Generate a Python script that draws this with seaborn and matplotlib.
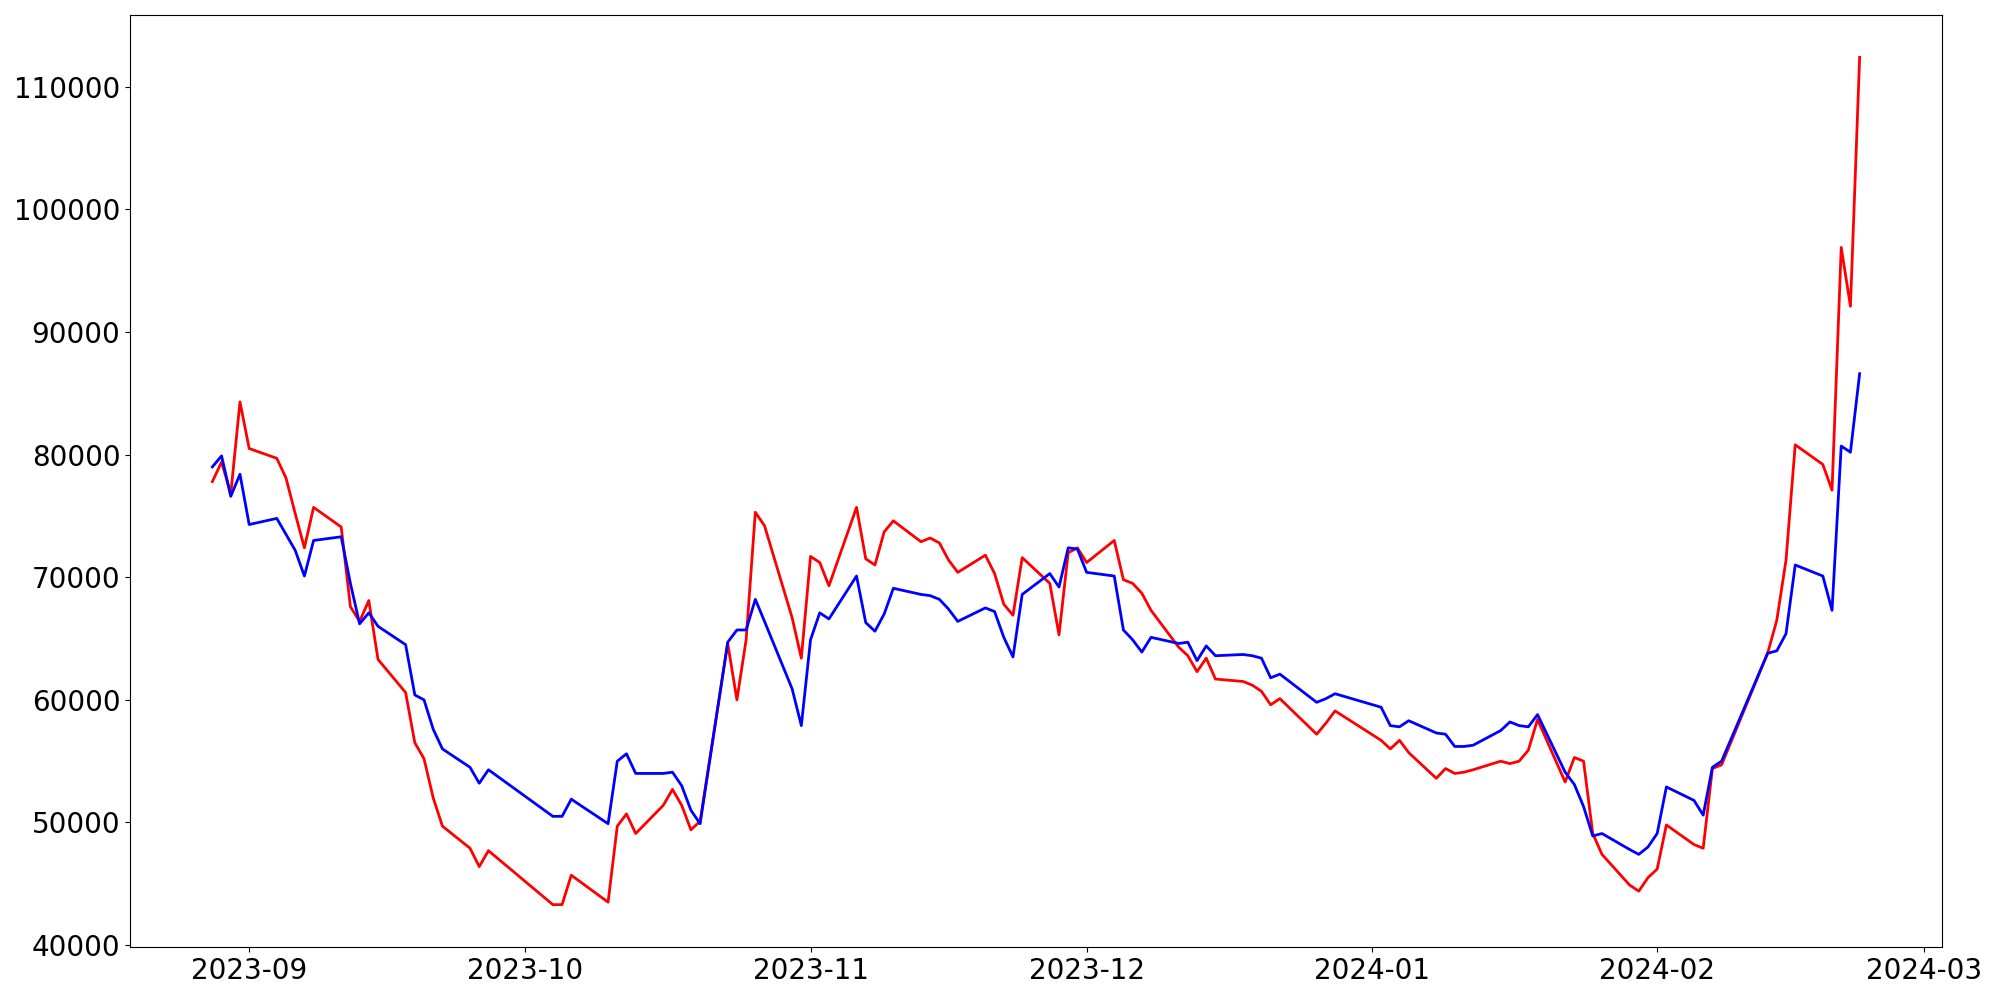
import matplotlib
matplotlib.use("Agg")
import matplotlib.pyplot as plt
import seaborn as sns
import pandas as pd

dates = [
    "2023-08-28", "2023-08-29", "2023-08-30", "2023-08-31",
    "2023-09-01", "2023-09-04", "2023-09-05", "2023-09-06", "2023-09-07", "2023-09-08",
    "2023-09-11", "2023-09-12", "2023-09-13", "2023-09-14", "2023-09-15",
    "2023-09-18", "2023-09-19", "2023-09-20", "2023-09-21", "2023-09-22",
    "2023-09-25", "2023-09-26", "2023-09-27",
    "2023-10-04", "2023-10-05", "2023-10-06",
    "2023-10-10", "2023-10-11", "2023-10-12", "2023-10-13",
    "2023-10-16", "2023-10-17", "2023-10-18", "2023-10-19", "2023-10-20",
    "2023-10-23", "2023-10-24", "2023-10-25", "2023-10-26", "2023-10-27",
    "2023-10-30", "2023-10-31", "2023-11-01", "2023-11-02", "2023-11-03",
    "2023-11-06", "2023-11-07", "2023-11-08", "2023-11-09", "2023-11-10",
    "2023-11-13", "2023-11-14", "2023-11-15", "2023-11-16", "2023-11-17",
    "2023-11-20", "2023-11-21", "2023-11-22", "2023-11-23", "2023-11-24",
    "2023-11-27", "2023-11-28", "2023-11-29", "2023-11-30", "2023-12-01",
    "2023-12-04", "2023-12-05", "2023-12-06", "2023-12-07", "2023-12-08",
    "2023-12-11", "2023-12-12", "2023-12-13", "2023-12-14", "2023-12-15",
    "2023-12-18", "2023-12-19", "2023-12-20", "2023-12-21", "2023-12-22",
    "2023-12-26", "2023-12-27", "2023-12-28",
    "2024-01-02", "2024-01-03", "2024-01-04", "2024-01-05",
    "2024-01-08", "2024-01-09", "2024-01-10", "2024-01-11", "2024-01-12",
    "2024-01-15", "2024-01-16", "2024-01-17", "2024-01-18", "2024-01-19",
    "2024-01-22", "2024-01-23", "2024-01-24", "2024-01-25", "2024-01-26",
    "2024-01-29", "2024-01-30", "2024-01-31", "2024-02-01", "2024-02-02",
    "2024-02-05", "2024-02-06", "2024-02-07", "2024-02-08",
    "2024-02-13", "2024-02-14", "2024-02-15", "2024-02-16",
    "2024-02-19", "2024-02-20", "2024-02-21", "2024-02-22", "2024-02-23",
]

red_values = [
    77800, 79400, 76800, 84300,
    80500, 79700, 78100, 75200, 72400, 75700,
    74100, 67600, 66400, 68100, 63300,
    60600, 56500, 55200, 52000, 49700,
    47900, 46400, 47700,
    43300, 43300, 45700,
    43500, 49700, 50700, 49100,
    51400, 52700, 51400, 49400, 50100,
    64600, 60000, 64900, 75300, 74200,
    66700, 63400, 71700, 71200, 69300,
    75700, 71500, 71000, 73700, 74600,
    72900, 73200, 72800, 71400, 70400,
    71800, 70300, 67800, 66900, 71600,
    69500, 65300, 72000, 72400, 71200,
    73000, 69800, 69500, 68700, 67300,
    64300, 63600, 62300, 63400, 61700,
    61500, 61200, 60700, 59600, 60100,
    57200, 58100, 59100,
    56700, 56000, 56700, 55700,
    53600, 54400, 54000, 54100, 54300,
    55000, 54800, 55000, 55900, 58400,
    53300, 55300, 55000, 49100, 47400,
    44900, 44400, 45500, 46200, 49800,
    48200, 47900, 54400, 54700,
    63800, 66500, 71400, 80800,
    79200, 77100, 96900, 92100, 112400,
]

blue_values = [
    79000, 79900, 76600, 78400,
    74300, 74800, 73500, 72200, 70100, 73000,
    73300, 69500, 66200, 67100, 66000,
    64500, 60400, 60000, 57600, 56000,
    54500, 53200, 54300,
    50500, 50500, 51900,
    49900, 55000, 55600, 54000,
    54000, 54100, 53000, 51000, 49900,
    64700, 65700, 65700, 68200, 66400,
    60900, 57900, 64900, 67100, 66600,
    70100, 66300, 65600, 67000, 69100,
    68600, 68500, 68200, 67400, 66400,
    67500, 67200, 65100, 63500, 68600,
    70300, 69200, 72400, 72300, 70400,
    70100, 65700, 64900, 63900, 65100,
    64600, 64700, 63200, 64400, 63600,
    63700, 63600, 63400, 61800, 62100,
    59800, 60100, 60500,
    59400, 57900, 57800, 58300,
    57300, 57200, 56200, 56200, 56300,
    57500, 58200, 57900, 57800, 58800,
    54100, 53100, 51300, 48900, 49100,
    47800, 47400, 48000, 49100, 52900,
    51800, 50600, 54500, 55000,
    63800, 64000, 65400, 71000,
    70100, 67300, 80700, 80200, 86600,
]

df = pd.DataFrame({"date": pd.to_datetime(dates), "red": red_values, "blue": blue_values})

fig = plt.figure(figsize=(20, 10), dpi=100)
ax = fig.add_subplot(111)
sns.lineplot(data=df, x="date", y="red", color="red", linewidth=2, ax=ax)
sns.lineplot(data=df, x="date", y="blue", color="blue", linewidth=2, ax=ax)
ax.set_xlabel("")
ax.set_ylabel("")
ax.tick_params(axis="both", labelsize=20)
fig.subplots_adjust(left=0.065, right=0.971, bottom=0.053, top=0.985)
fig.savefig("out.png", dpi=100)
